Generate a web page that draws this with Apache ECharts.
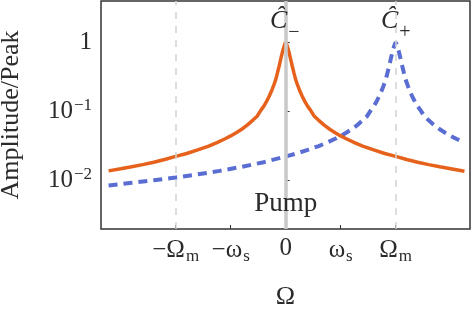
<!DOCTYPE html>
<html>
<head>
<meta charset="utf-8">
<script src="https://cdn.jsdelivr.net/npm/echarts@6/dist/echarts.min.js"></script>
<style>
  html, body { margin: 0; padding: 0; background: #fff; }
  #chart { width: 474px; height: 314px; }
</style>
</head>
<body>
<div id="chart"></div>
<script>
// x in units of omega_s, Omega_m = 2 omega_s
const omegaM = 2;
const xTicks = [-2, -1, 0, 1, 2];
const xTickLabels = ['{t|−Ω}{s|m}', '{t|−ω}{s|s}', '{t|0}', '{t|ω}{s|s}', '{t|Ω}{s|m}'];
const yTicks = [0.01, 0.1, 1];
const yTickLabels = ['{t|10}{p|−2}', '{t|10}{p|−1}', '{t|1}'];

// C_- mode (orange, peaked at 0)
const xMinus = [-3.22, -3.0, -2.8, -2.6, -2.4, -2.2, -2.0, -1.8, -1.6, -1.4, -1.25, -1.1, -1.0, -0.9, -0.8, -0.7, -0.6, -0.52,
  -0.45, -0.4, -0.35, -0.3, -0.26, -0.22, -0.18, -0.15, -0.12, -0.09, -0.06, -0.04, -0.02, 0,
  0.02, 0.04, 0.06, 0.09, 0.12, 0.15, 0.18, 0.22, 0.26, 0.3, 0.35, 0.4, 0.45,
  0.52, 0.6, 0.7, 0.8, 0.9, 1.0, 1.1, 1.25, 1.4, 1.6, 1.8, 2.0, 2.2, 2.4, 2.6, 2.8, 3.0, 3.25];
const ampMinus = [0.0137, 0.0147, 0.0157, 0.0169, 0.0183, 0.020, 0.0222, 0.0245, 0.0276, 0.0314, 0.0352, 0.040, 0.044, 0.049, 0.055, 0.063, 0.074, 0.085,
  0.104, 0.118, 0.138, 0.165, 0.195, 0.235, 0.29, 0.36, 0.45, 0.57, 0.72, 0.82, 0.92, 1,
  0.92, 0.82, 0.72, 0.57, 0.45, 0.36, 0.29, 0.235, 0.195, 0.165, 0.138, 0.118, 0.104,
  0.085, 0.074, 0.063, 0.055, 0.049, 0.044, 0.040, 0.0352, 0.0314, 0.0276, 0.0245, 0.0222, 0.020, 0.0183, 0.0169, 0.0157, 0.0147, 0.0135];

// C_+ mode (blue dashed, peaked at Omega_m)
const xPlus = [-3.22, -2.8, -2.4, -2.0, -1.6, -1.2, -0.8, -0.4, 0, 0.2, 0.4, 0.6, 0.75, 0.9, 1.0, 1.1, 1.2, 1.3, 1.4, 1.48,
  1.55, 1.6, 1.65, 1.7, 1.74, 1.78, 1.82, 1.85, 1.88, 1.91, 1.94, 1.96, 1.98, 2.0,
  2.02, 2.04, 2.06, 2.09, 2.12, 2.15, 2.18, 2.22, 2.26, 2.3, 2.35, 2.4, 2.45, 2.52, 2.6, 2.7, 2.8, 2.9, 3.0, 3.1, 3.25];
const ampPlus = [0.0084, 0.0092, 0.010, 0.011, 0.0122, 0.0137, 0.0157, 0.0183, 0.0222, 0.0245, 0.0276, 0.0314, 0.0352, 0.040, 0.044, 0.049, 0.055, 0.063, 0.074, 0.085,
  0.104, 0.118, 0.138, 0.165, 0.195, 0.235, 0.29, 0.36, 0.45, 0.57, 0.72, 0.82, 0.92, 1,
  0.92, 0.82, 0.72, 0.57, 0.45, 0.36, 0.29, 0.235, 0.195, 0.165, 0.138, 0.118, 0.104, 0.085, 0.074, 0.063, 0.055, 0.049, 0.044, 0.040, 0.0352];

const serif = 'Liberation Serif';
const ink = '#2b2b2b';

const chart = echarts.init(document.getElementById('chart'), null, { renderer: 'canvas' });

const richX = {
  t: { fontFamily: serif, fontSize: 25, color: ink },
  s: { fontFamily: serif, fontSize: 17, color: ink, padding: [12, 0, 0, 1] }
};
const richY = {
  t: { fontFamily: serif, fontSize: 25, color: ink },
  p: { fontFamily: serif, fontSize: 17, color: ink, padding: [0, 0, 12, 1] }
};
const richC = {
  c: { fontFamily: serif, fontStyle: 'italic', fontSize: 26, color: ink },
  s: { fontFamily: serif, fontSize: 20, color: ink, padding: [22, 0, 0, 1] }
};

const option = {
  animation: false,
  backgroundColor: '#fff',
  grid: {
    left: 101, right: 4, top: 1, bottom: 85,
    outerBoundsMode: 'none',
    containLabel: false,
    show: true, borderColor: '#333', borderWidth: 1.5, backgroundColor: 'transparent'
  },
  xAxis: {
    type: 'value',
    min: -3.358,
    max: 3.351,
    name: 'Ω',
    nameLocation: 'middle',
    nameGap: 55,
    nameTextStyle: { fontFamily: serif, fontSize: 26, color: ink },
    axisLine: { show: false },
    axisTick: { inside: true, length: 4, lineStyle: { color: '#333', width: 1 }, customValues: xTicks },
    axisLabel: {
      customValues: xTicks,
      margin: 7,
      formatter: v => xTickLabels[xTicks.indexOf(v)],
      rich: richX
    },
    splitLine: { show: false }
  },
  yAxis: {
    type: 'log',
    logBase: 10,
    min: 0.00197,
    max: 3.97,
    name: 'Amplitude/Peak',
    nameLocation: 'middle',
    nameGap: 77,
    nameTextStyle: { fontFamily: serif, fontSize: 26, color: ink },
    axisLine: { show: false },
    axisTick: { inside: true, length: 4, lineStyle: { color: '#333', width: 1 }, customValues: yTicks },
    axisLabel: {
      customValues: yTicks,
      margin: 9,
      formatter: v => yTickLabels[yTicks.indexOf(v)],
      rich: richY
    },
    splitLine: { show: false }
  },
  series: [
    {
      name: 'markers',
      type: 'line',
      data: [],
      z: 1,
      markLine: {
        silent: true,
        symbol: 'none',
        label: { show: false },
        data: [
          { xAxis: -omegaM, lineStyle: { color: '#d2d2d2', width: 1.5, type: [7, 7] } },
          { xAxis: omegaM, lineStyle: { color: '#d2d2d2', width: 1.5, type: [7, 7] } },
          { xAxis: 0, lineStyle: { color: '#c9c9c9', width: 3.5, type: 'solid' } }
        ]
      },
      markPoint: {
        silent: true,
        symbolSize: 0,
        data: [
          { coord: [0, 2.0], label: { formatter: '{c|Ĉ}{s|−}', rich: richC, offset: [-1, 0] } },
          { coord: [omegaM, 2.0], label: { formatter: '{c|Ĉ}{s|+}', rich: richC, offset: [0, 0] } },
          { coord: [0, 0.0045], label: { formatter: 'Pump', fontFamily: serif, fontSize: 27, color: ink } }
        ],
        label: { show: true, position: 'inside' }
      }
    },
    {
      name: 'C+',
      type: 'line',
      z: 3,
      showSymbol: false,
      lineStyle: { color: '#5a6dd2', width: 4, type: [9, 6] },
      data: xPlus.map((x, i) => [x, ampPlus[i]])
    },
    {
      name: 'C-',
      type: 'line',
      z: 4,
      showSymbol: false,
      lineStyle: { color: '#e6621c', width: 3.5 },
      data: xMinus.map((x, i) => [x, ampMinus[i]])
    }
  ]
};

chart.setOption(option);
</script>
</body>
</html>
